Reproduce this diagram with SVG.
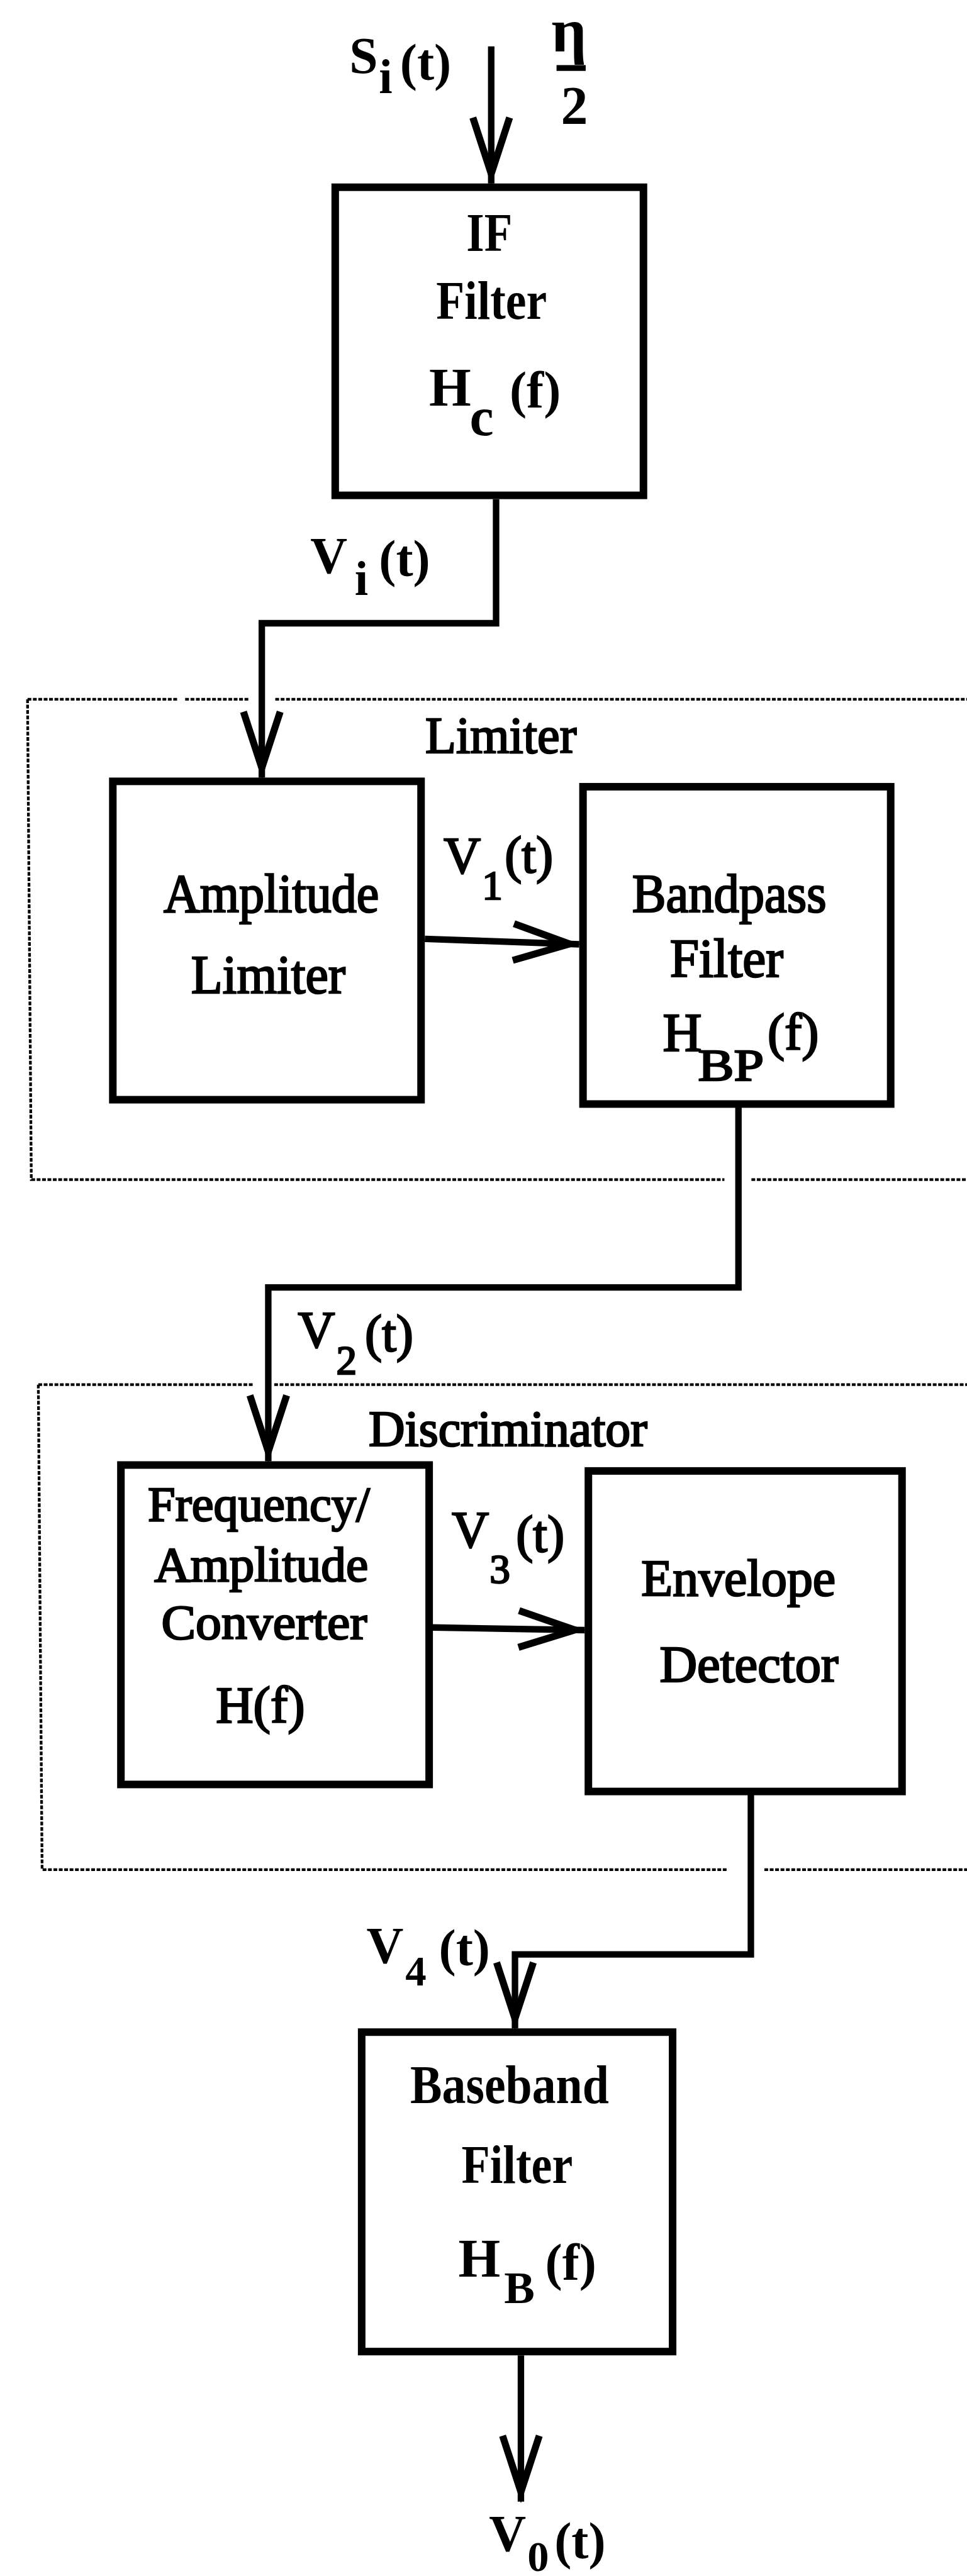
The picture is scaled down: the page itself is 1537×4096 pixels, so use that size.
<svg xmlns="http://www.w3.org/2000/svg" width="1537" height="4096" viewBox="0 0 1537 4096">
<style>
.b{font-family:"Liberation Serif","Times New Roman",serif;font-weight:bold;fill:#000}
.r{font-family:"Liberation Serif","Times New Roman",serif;font-weight:normal;fill:#000;stroke:#000;stroke-width:3}
.box{fill:#fff;stroke:#000;stroke-width:14}
.wire{fill:none;stroke:#000;stroke-width:12;stroke-linejoin:miter}
.dot{fill:none;stroke:#000;stroke-width:5;stroke-dasharray:7 3}
</style>
<defs>
<marker id="ah" markerUnits="userSpaceOnUse" viewBox="0 0 140 80" markerWidth="140" markerHeight="80" refX="130" refY="40" orient="auto" overflow="visible">
<path d="M8,6 L112,40 L8,74" fill="none" stroke="#000" stroke-width="13"/>
</marker>
</defs>
<rect x="0" y="0" width="1537" height="4096" fill="#fff"/>
<g transform="scale(0.858)">
<g id="limiter-group">
<path class="dot" d="M51,1296 H331 M343,1296 H460 M510,1296 H1800 M51,1296 L58,2186 H1342 M1392,2186 H1800"/>
<text class="r" x="788" y="1395" font-size="95" textLength="280" lengthAdjust="spacingAndGlyphs">Limiter</text>
</g>
<g id="discriminator-group">
<path class="dot" d="M71,2566 H468 M508,2566 H1800 M71,2566 L78,3465 H1348 M1416,3465 H1800"/>
<text class="r" x="683" y="2680" font-size="93" textLength="516" lengthAdjust="spacingAndGlyphs">Discriminator</text>
</g>
<g id="if-filter">
<rect class="box" x="621" y="347" width="571" height="571"/>
<text class="b" x="864" y="465" font-size="100" textLength="85" lengthAdjust="spacingAndGlyphs">IF</text>
<text class="b" x="808" y="591" font-size="100" textLength="205" lengthAdjust="spacingAndGlyphs">Filter</text>
<text class="b" font-size="100"><tspan x="795" y="752">H</tspan><tspan x="870" y="807">c</tspan><tspan x="944" y="755" font-size="95">(f)</tspan></text>
</g>
<g id="amp-limiter">
<rect class="box" x="209" y="1448" width="571" height="590"/>
<text class="r" x="303" y="1690" font-size="100" textLength="399" lengthAdjust="spacingAndGlyphs">Amplitude</text>
<text class="r" x="354" y="1840" font-size="100" textLength="286" lengthAdjust="spacingAndGlyphs">Limiter</text>
</g>
<g id="bandpass">
<rect class="box" x="1080" y="1458" width="570" height="588"/>
<text class="r" x="1171" y="1690" font-size="100" textLength="360" lengthAdjust="spacingAndGlyphs">Bandpass</text>
<text class="r" x="1241" y="1810" font-size="100" textLength="210" lengthAdjust="spacingAndGlyphs">Filter</text>
<text class="r" font-size="100"><tspan x="1228" y="1948">H</tspan><tspan x="1293" y="2002" font-size="85" textLength="122" lengthAdjust="spacingAndGlyphs">BP</tspan><tspan x="1422" y="1945" font-size="95">(f)</tspan></text>
</g>
<g id="fa-converter">
<rect class="box" x="224" y="2715" width="571" height="592"/>
<text class="r" x="274" y="2818" font-size="90" textLength="411" lengthAdjust="spacingAndGlyphs">Frequency/</text>
<text class="r" x="286" y="2930" font-size="90" textLength="396" lengthAdjust="spacingAndGlyphs">Amplitude</text>
<text class="r" x="299" y="3037" font-size="90" textLength="381" lengthAdjust="spacingAndGlyphs">Converter</text>
<text class="r" x="400" y="3192" font-size="95" textLength="165" lengthAdjust="spacingAndGlyphs">H(f)</text>
</g>
<g id="envelope-detector">
<rect class="box" x="1090" y="2726" width="581" height="594"/>
<text class="r" x="1188" y="2957" font-size="95" textLength="360" lengthAdjust="spacingAndGlyphs">Envelope</text>
<text class="r" x="1222" y="3117" font-size="95" textLength="331" lengthAdjust="spacingAndGlyphs">Detector</text>
</g>
<g id="baseband-filter">
<rect class="box" x="670" y="3766" width="576" height="592"/>
<text class="b" x="760" y="3897" font-size="100" textLength="368" lengthAdjust="spacingAndGlyphs">Baseband</text>
<text class="b" x="855" y="4046" font-size="100" textLength="206" lengthAdjust="spacingAndGlyphs">Filter</text>
<text class="b" font-size="100"><tspan x="849" y="4219">H</tspan><tspan x="934" y="4268" font-size="85">B</tspan><tspan x="1010" y="4225" font-size="95">(f)</tspan></text>
</g>
<g id="connectors">
<path class="wire" d="M910,86 V340" marker-end="url(#ah)"/>
<path class="wire" d="M919,925 V1155 H485 V1441" marker-end="url(#ah)"/>
<path class="wire" d="M787,1740 L1073,1750" marker-end="url(#ah)"/>
<path class="wire" d="M1368,2051 V2386 H497 V2708" marker-end="url(#ah)"/>
<path class="wire" d="M800,3016 L1083,3021" marker-end="url(#ah)"/>
<path class="wire" d="M1391,3326 V3622 H954 V3759" marker-end="url(#ah)"/>
<path class="wire" d="M965,4365 V4636" marker-end="url(#ah)"/>
</g>
<g id="signal-labels">
<text class="b" font-size="95"><tspan x="647" y="135">S</tspan><tspan x="702" y="172" font-size="90">i</tspan><tspan x="741" y="148">(t)</tspan></text>
<g id="noise-density">
<text class="b" x="1054" y="95" font-size="115" text-anchor="middle">η</text>
<line x1="1031" y1="126" x2="1085" y2="126" stroke="#000" stroke-width="11"/>
<text class="b" x="1064" y="230" font-size="100" text-anchor="middle">2</text>
</g>
<text class="b" font-size="95"><tspan x="575" y="1062">V</tspan><tspan x="657" y="1102" font-size="90">i</tspan><tspan x="702" y="1068">(t)</tspan></text>
<text class="r" font-size="95"><tspan x="822" y="1618">V</tspan><tspan x="893" y="1667" font-size="76">1</tspan><tspan x="935" y="1617">(t)</tspan></text>
<text class="r" font-size="95"><tspan x="552" y="2497">V</tspan><tspan x="623" y="2547" font-size="76">2</tspan><tspan x="676" y="2503">(t)</tspan></text>
<text class="r" font-size="95"><tspan x="837" y="2867">V</tspan><tspan x="907" y="2934" font-size="76">3</tspan><tspan x="956" y="2875">(t)</tspan></text>
<text class="b" font-size="95"><tspan x="679" y="3637">V</tspan><tspan x="751" y="3680" font-size="78">4</tspan><tspan x="813" y="3642">(t)</tspan></text>
<text class="b" font-size="95"><tspan x="906" y="4727">V</tspan><tspan x="977" y="4764" font-size="80">0</tspan><tspan x="1027" y="4741">(t)</tspan></text>
</g>
</g>
</svg>
